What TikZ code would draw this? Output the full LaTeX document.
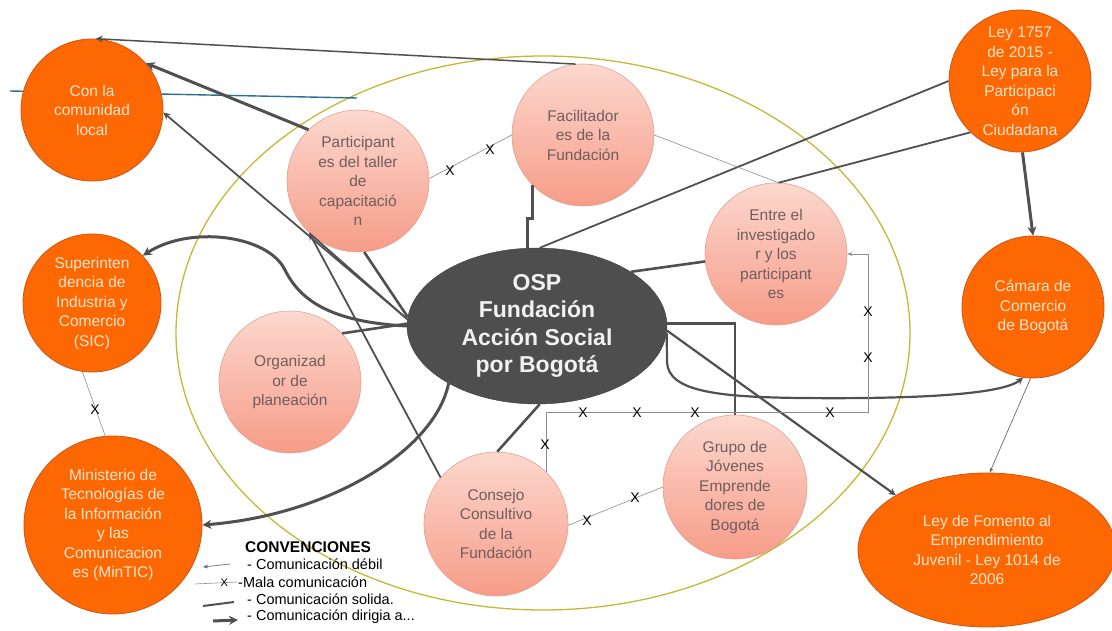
\documentclass[tikz,border=0pt]{standalone}
\usepackage{fontspec}
\setmainfont{Liberation Sans}
\usetikzlibrary{shapes.geometric,arrows.meta}
\definecolor{naranja}{RGB}{253,104,2}
\definecolor{naranjaborde}{RGB}{205,85,20}
\definecolor{rosaclaro}{RGB}{252,216,206}
\definecolor{rosaoscuro}{RGB}{246,156,136}
\definecolor{rosaborde}{RGB}{228,160,148}
\definecolor{textorosa}{RGB}{112,94,94}
\definecolor{textonaranja}{RGB}{255,228,205}
\definecolor{gris}{RGB}{78,78,78}
\definecolor{linea}{RGB}{80,80,80}
\definecolor{oliva}{RGB}{196,184,52}
\definecolor{azul}{RGB}{40,112,140}

\begin{document}
\begin{tikzpicture}[x=1pt,y=-1pt,
	externo/.style={circle,fill=naranja,draw=naranjaborde,line width=0.8pt,minimum size=142pt,inner sep=0pt,align=center,text=textonaranja,font=\fontsize{15.5}{19.5}\selectfont},
	interno/.style={circle,top color=rosaclaro,bottom color=rosaoscuro,draw=rosaborde,line width=0.6pt,minimum size=142pt,inner sep=0pt,align=center,text=textorosa,font=\fontsize{15.5}{19.5}\selectfont},
	debil/.style={draw=linea!85,line width=0.7pt,-{Stealth[length=5pt,width=4pt]}},
	mala/.style={draw=black!45,line width=0.6pt},
	solida/.style={draw=linea,line width=2.6pt},
	media/.style={draw=linea,line width=1.8pt},
	flecha/.style={draw=linea,line width=1.8pt,-{Stealth[length=7pt,width=7pt]}},
	dirigida/.style={draw=linea,line width=3pt,-{Stealth[length=9pt,width=9pt]}},
	equis/.style={font=\fontsize{14}{14}\selectfont,inner sep=0pt},
	conv/.style={anchor=west,inner sep=0pt,font=\fontsize{14.5}{16}\selectfont}]
			\useasboundingbox (0,0) rectangle (1112,631);
			% fondo
			\draw[oliva,line width=1.3pt] (543,333) ellipse [x radius=367,y radius=277];
			\draw[azul,line width=1.4pt] (10,91) -- (357,98);
			% actores externos
			\node[externo] (com) at (92,110) {Con la\\comunidad\\local};
			\node[externo,minimum size=138pt] (sic) at (92,303) {Superinten\\dencia de\\Industria y\\Comercio\\(SIC)};
			\node[externo,minimum size=178pt] (min) at (113,525) {Ministerio de\\Tecnologías de\\la Información\\y las\\Comunicacion\\es (MinTIC)};
			\node[externo] (ley) at (1020,81) {Ley 1757\\de 2015 -\\Ley para la\\Participaci\\ón\\Ciudadana};
			\node[externo] (cam) at (1033,307) {Cámara de\\Comercio\\de Bogotá};
			\node[externo,ellipse,minimum width=258pt,minimum height=154pt] (lfo) at (987,550) {Ley de Fomento al\\Emprendimiento\\Juvenil - Ley 1014 de\\2006};
			% actores internos
			\node[interno] (par) at (358,181) {Participant\\es del taller\\de\\capacitació\\n};
			\node[interno] (fac) at (583,135) {Facilitador\\es de la\\Fundación};
			\node[interno] (ent) at (776,254) {Entre el\\investigado\\r y los\\participant\\es};
			\node[interno] (org) at (290,382) {Organizad\\or de\\planeación};
			\node[interno,minimum size=144pt] (con) at (496,524) {Consejo\\Consultivo\\de la\\Fundación};
			\node[interno,minimum size=144pt] (grp) at (735,487) {Grupo de\\Jóvenes\\Emprende\\dores de\\Bogotá};
			\node[ellipse,fill=gris,draw=gris!80!black,minimum width=260pt,minimum height=156pt,inner sep=0pt,align=center,text=white!92!gris,font=\bfseries\fontsize{23}{27.5}\selectfont] (osp) at (537,326) {OSP\\Fundación\\Acción Social\\por Bogotá};
			% hacia la comunidad
			\draw[flecha,line width=1.5pt] (fac.96) -- (com.87);
			\draw[dirigida] (par.134) -- (com.41);
			\draw[flecha] (osp.177) -- (com.-2);
			\draw[media] (osp.177) -- (par.227);
			\draw[flecha] (con.140) -- (par.227);
			% comunicacion solida con OSP
			\draw[solida] (par.275) -- (osp.176);
			\draw[solida] (org.43) -- (osp.179);
			\draw[solida] (fac.225) -- ++(0,33) -| (osp.97);
			\draw[solida] (ent.186) -- (osp.30);
			\draw[solida] (osp.272) -- (con.89);
			\draw[solida] (osp.1) -| (grp.90);
			% leyes y entidades
			\draw[media] (ley.180) -- (osp.88);
			\draw[media] (ley.226) -- (ent.88);
			\draw[mala] (fac.0) -- (ent.88);
			\draw[dirigida] (ley.272) -- (cam.90);
			\draw[debil] (cam.268) -- (lfo.88);
			\draw[flecha,line width=2.2pt] (osp.-2) -- (lfo.149);
			\draw[flecha,line width=2.2pt] (osp.-3) -- (667,362) .. controls (668,392) and (720,397) .. (800,398) .. controls (900,399) and (1000,396) .. (cam.262);
			\draw[dirigida] (osp.180) .. controls (330,322) and (300,300) .. (285,270) .. controls (268,235) and (190,225) .. (sic.43);
			\draw[dirigida] (osp.213) .. controls (435,450) and (330,515) .. (min.0);
			% mala comunicacion
			\draw[mala] (par.2) -- (fac.180);
			\draw[mala] (con.-1) -- (grp.180);
			\draw[mala] (sic.262) -- (min.95);
			\draw[mala,-{Stealth[length=5pt,width=4pt]}] (con.46) |- (868,412) |- (ent.0);
			\foreach \p [count=\i] in {(450,171),(490,150),(587,521),(635,498),(95,410),(545,445),(583,413),(637,413),(695,413),(830,413),(868,312),(868,358)}
				\node[equis] (x\i) at \p {X};
			% convenciones
			\node[conv,font=\bfseries\fontsize{15.5}{16}\selectfont] (tit) at (245,547) {CONVENCIONES};
			\node[conv] (l1) at (247,564) {- Comunicación débil};
			\node[conv] (l2) at (238,582) {-Mala comunicación};
			\node[conv] (l3) at (247,599) {- Comunicación solida.};
			\node[conv] (l4) at (247,617) {- Comunicación dirigia a...};
			\draw[debil] ([xshift=-17pt]l1.west) -- ++(-27,3);
			\draw[mala] ([xshift=-1pt]l2.west) -- ++(-42,2) node[pos=0.3,equis,font=\fontsize{11}{11}\selectfont] (lx) {X};
			\draw[solida,line width=2pt] ([xshift=-13pt,yshift=-3pt]l3.west) -- ++(-31,4);
			\draw[dirigida] ([xshift=-34pt,yshift=-4pt]l4.west) -- ++(25,-1);
		\end{tikzpicture}
\end{document}
